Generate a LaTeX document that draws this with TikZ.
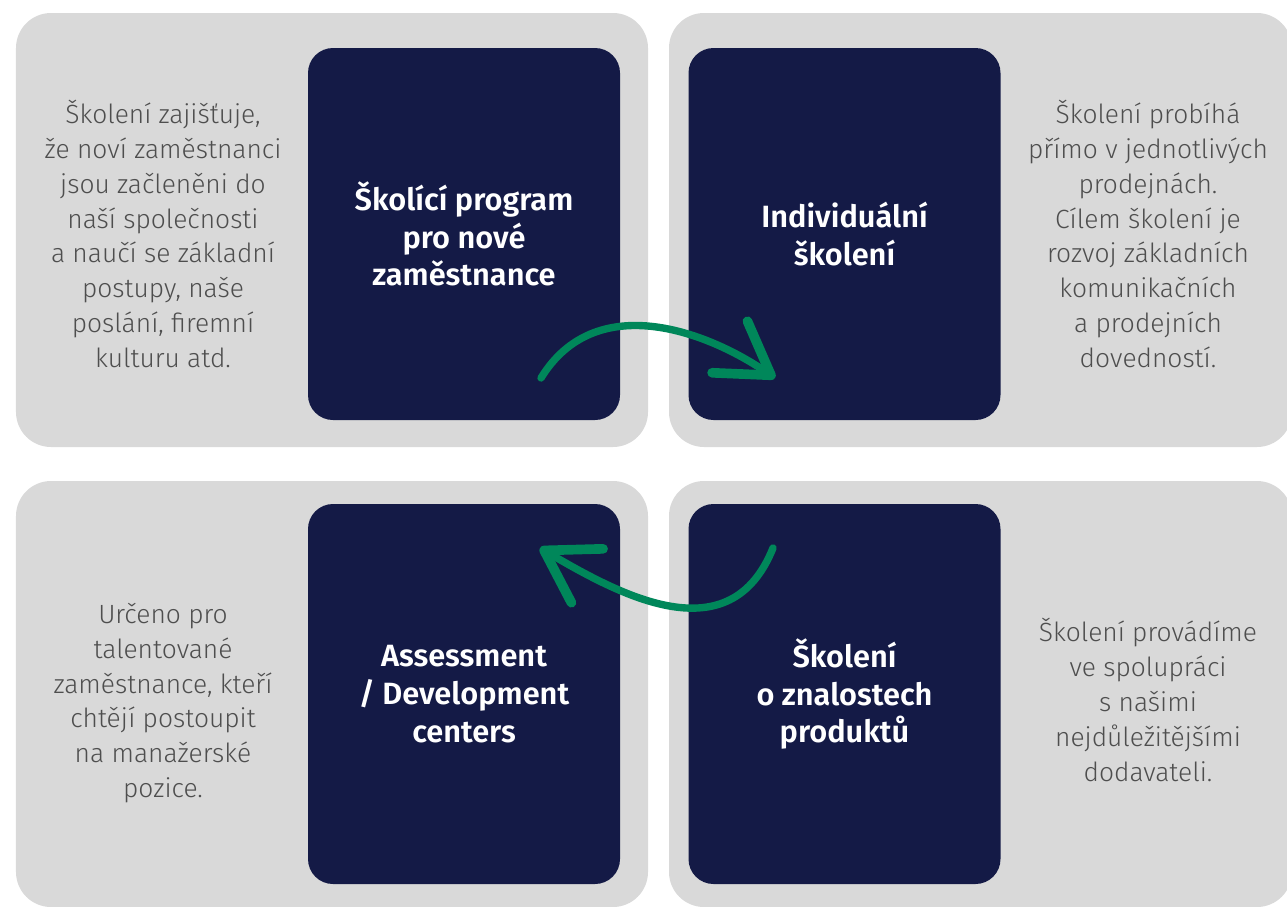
\documentclass[tikz,border=0pt]{standalone}
\usepackage{fontspec}
\setmainfont{Fira Sans Light}[BoldFont={Fira Sans SemiBold}]
\usepackage{tikz}
\usetikzlibrary{arrows.meta,positioning}
\definecolor{panelgray}{RGB}{217,217,217}
\definecolor{navy}{RGB}{20,26,70}
\definecolor{textgray}{RGB}{78,78,78}
\definecolor{arrowgreen}{RGB}{0,135,90}

\begin{document}
\begin{tikzpicture}[
  panel/.style={fill=panelgray,rounded corners=0.7cm,minimum width=12.64cm,minimum height=8.68cm},
  card/.style={fill=navy,rounded corners=0.5cm,minimum width=6.24cm,align=center,text=white,
    font=\bfseries\fontsize{17.5}{21.5}\selectfont},
  note/.style={align=center,text=textgray,font=\fontsize{15}{19.8}\selectfont},
  flow/.style={arrowgreen,line width=4.2pt,line cap=round,line join=round,
    -{Straight Barb[length=1.0cm,width=1.25cm,line width=5.5pt,round]}},
]
\useasboundingbox (0,0) rectangle (25.74,-18.12);

% Panely
\node[panel] (p1) at (6.64,-4.6) {};
\node[panel,minimum width=12.46cm] (p2) at (19.61,-4.6) {};
\node[panel,minimum height=8.52cm] (p3) at (6.64,-13.88) {};
\node[panel,minimum width=12.46cm,minimum height=8.52cm] (p4) at (19.61,-13.88) {};

% Karty
\node[card,minimum height=7.44cm] (c1) at (9.28,-4.68) {Školící program\\pro nové\\zaměstnance};
\node[card,minimum height=7.44cm] (c2) at (16.89,-4.68) {Individuální\\školení};
\node[card,minimum height=7.6cm] (c3) at (9.28,-13.88) {Assessment\\/ Development\\centers};
\node[card,minimum height=7.6cm] (c4) at (16.89,-13.88) {Školení\\o znalostech\\produktů};

% Popisy
\node[note] (n1) at (3.26,-4.68) {Školení zajišťuje,\\že noví zaměstnanci\\jsou začleněni do\\naší společnosti\\a naučí se základní\\postupy, naše\\poslání, firemní\\kulturu atd.};
\node[note] (n2) at (22.96,-4.68) {Školení probíhá\\přímo v jednotlivých\\prodejnách.\\Cílem školení je\\rozvoj základních\\komunikačních\\a prodejních\\dovedností.};
\node[note] (n3) at (3.26,-14.06) {Určeno pro\\talentované\\zaměstnance, kteří\\chtějí postoupit\\na manažerské\\pozice.};
\node[note] (n4) at (22.96,-14.0) {Školení provádíme\\ve spolupráci\\s našimi\\nejdůležitějšími\\dodavateli.};

% Šipky
\coordinate (a1) at (10.82,-7.56);
\coordinate (b1) at (15.5,-7.56);
\coordinate (a2) at (15.46,-10.96);
\coordinate (b2) at (10.8,-10.96);
\draw[flow] (a1) .. controls (11.9,-5.8) and (14.1,-6.6) .. (b1);
\draw[flow] (a2) .. controls (14.6,-13.1) and (12.4,-11.9) .. (b2);

\end{tikzpicture}
\end{document}
